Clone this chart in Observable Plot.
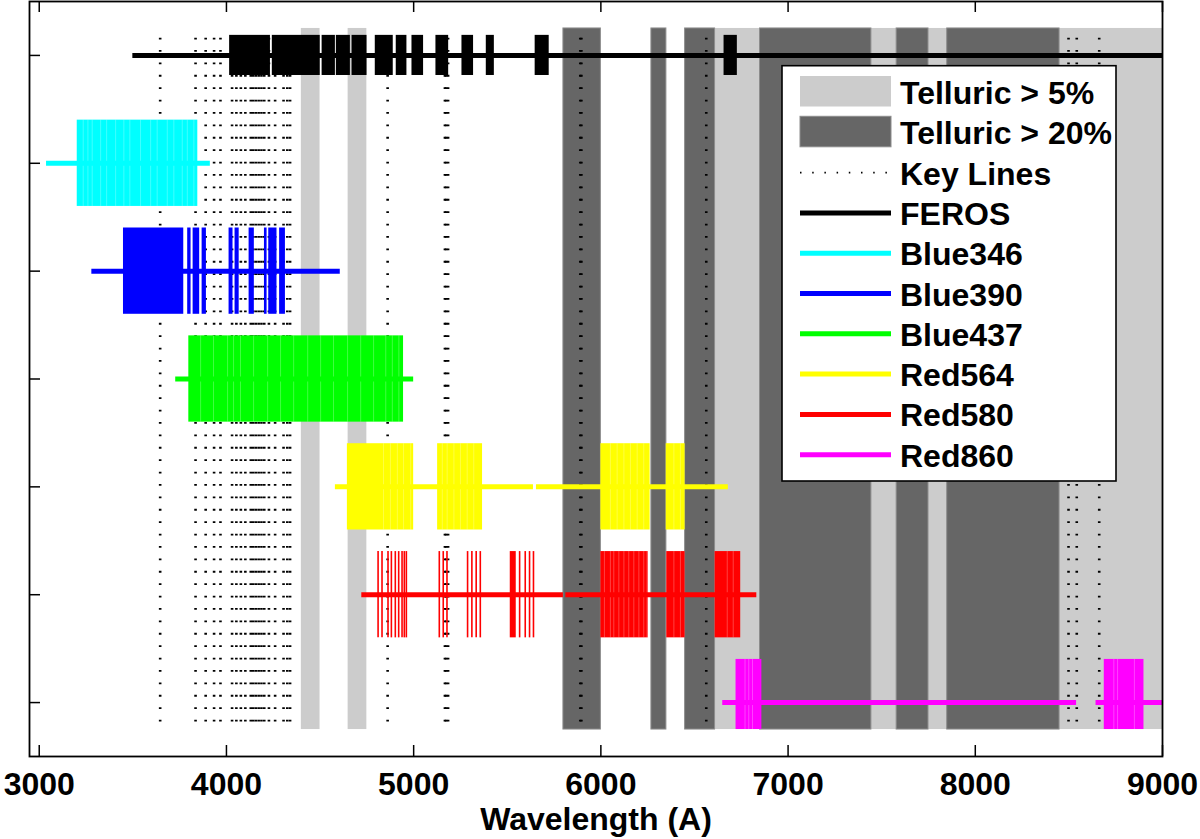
<!DOCTYPE html>
<html>
<head>
<meta charset="utf-8">
<script src="https://cdn.jsdelivr.net/npm/d3@7"></script>
<script src="https://cdn.jsdelivr.net/npm/@observablehq/plot@0.6"></script>
<style>
  body { margin: 0; background: #fff; }
  #chart { width: 1200px; height: 839px; }
</style>
</head>
<body>
<div id="chart"></div>
<script>
// ---------- data ----------
const settings = ["FEROS", "Blue346", "Blue390", "Blue437", "Red564", "Red580", "Red860"];
const settingColors = ["#000000", "#00ffff", "#0000ff", "#00ff00", "#ffff00", "#ff0000", "#ff00ff"];

// wavelength coverage (horizontal lines), one or two CCD segments
const ferosCoverage = [[3500, 9200]];
const blue346Coverage = [[3039, 3914]];
const blue390Coverage = [[3281, 4608]];
const blue437Coverage = [[3729, 5000]];
const red564Coverage = [[4582, 5640], [5656, 6681]];
const red580Coverage = [[4723, 5800], [5813, 6833]];
const red860Coverage = [[6651, 8541], [8645, 9200]];

// order blocks (filled boxes)
const ferosOrders = [[4017, 4235], [4245, 4501], [4511, 4582], [4587, 4662], [4671, 4751], [4795, 4891], [4907, 4964], [4991, 5053], [5119, 5187], [5258, 5320], [5388, 5431], [5649, 5724], [6658, 6729]];
const blue346Orders = [[3203, 3847]];
const blue390Orders = [[3450, 3772], [3793, 3811], [3822, 3857], [3870, 3893], [4014, 4035], [4046, 4068], [4121, 4149], [4203, 4217], [4226, 4270], [4284, 4315]];
const blue437Orders = [[3799, 4946]];
const red564Orders = [[4646, 5000], [5128, 5368], [6000, 6263], [6349, 6450]];
const red580Orders = [[5516, 5548], [6000, 6253], [6352, 6450], [6610, 6747]];
const red860Orders = [[6722, 6860], [8689, 8901]];
// isolated thin order lines
const red580Lines = [4810, 4831, 4863, 4881, 4902, 4920, 4938, 4950, 4961, 5137, 5158, 5178, 5288, 5311, 5334, 5356, 5566, 5596, 5619, 5640];

// faint light seams between adjacent orders inside the blocks
const blue346Seams = [3235, 3260, 3283, 3328, 3360, 3408, 3452, 3484, 3541, 3595, 3630, 3684, 3719, 3764, 3791, 3826];
const blue437Seams = [3862, 3931, 4006, 4038, 4075, 4145, 4220, 4289, 4359, 4434, 4503, 4572, 4647, 4717, 4786, 4851, 4886, 4921];
const red564Seams = [4839, 4876, 4913, 4946, 4984, 5153, 5179, 5215, 5250, 5286, 5321, 6051, 6087, 6123, 6158, 6194, 6229, 6390, 6425];
const red580Seams = [6019, 6051, 6069, 6096, 6123, 6149, 6176, 6203, 6229, 6247, 6390, 6425, 6675, 6707];
const red860Seams = [6770, 6790, 6810, 8740, 8760, 8850];

// telluric absorption bands
const telluric5 = [[4400, 4500], [4650, 4750], [6610, 9000]];
const telluric20 = [[5800, 6000], [6270, 6350], [6450, 6610], [6850, 7445], [7580, 7750], [7850, 8450]];

// key spectral lines
const keyLines = [3646, 3835, 3889, 3934, 3968, 4030, 4053, 4077, 4101, 4130, 4143, 4157, 4172, 4187, 4202, 4227, 4260, 4305, 4325, 4340, 4861, 5167, 5173, 5184, 5890, 5896, 6563, 8498, 8542, 8662];

const xTicks = [3000, 4000, 5000, 6000, 7000, 8000, 9000];
const legendLabels = ["Telluric > 5%", "Telluric > 20%", "Key Lines", "FEROS", "Blue346", "Blue390", "Blue437", "Red564", "Red580", "Red860"];

// ---------- build tables ----------
const coverages = [ferosCoverage, blue346Coverage, blue390Coverage, blue437Coverage, red564Coverage, red580Coverage, red860Coverage];
const orders = [ferosOrders, blue346Orders, blue390Orders, blue437Orders, red564Orders, red580Orders, red860Orders];
const seams = [[], blue346Seams, [], blue437Seams, red564Seams, red580Seams, red860Seams];

const bandTop = 0.75, bandBottom = 7.25;
const halfHeight = i => (i === 0 ? 0.186 : 0.4);
const rowTop = i => i + 1 - halfHeight(i);
const rowBottom = i => Math.min(i + 1 + halfHeight(i), bandBottom);

const coverageRows = [];
coverages.forEach((segs, i) => segs.forEach(([a, b]) => coverageRows.push({x1: a, x2: b, y: i + 1, color: settingColors[i]})));
const orderRows = [];
orders.forEach((segs, i) => segs.forEach(([a, b]) => orderRows.push({x1: a, x2: b, y1: rowTop(i), y2: rowBottom(i), color: settingColors[i]})));
const seamRows = [];
seams.forEach((xs, i) => xs.forEach(x => seamRows.push({x, y1: rowTop(i), y2: rowBottom(i)})));
const red580Row = settings.indexOf("Red580") + 1;

const W = 1200, H = 839;
const mTop = 1, mBottom = 83, mLeft = 29, mRight = 38;
const xDomain = [2948, 9000];
const pxPerUnitY = (H - mTop - mBottom) / 7;
const pxPerUnitX = (W - mLeft - mRight) / (xDomain[1] - xDomain[0]);
const tickLen = 11;
const font = "'Liberation Sans', Arial, Helvetica, sans-serif";

const chart = Plot.plot({
  width: W,
  height: H,
  marginTop: mTop,
  marginBottom: mBottom,
  marginLeft: mLeft,
  marginRight: mRight,
  style: {fontFamily: font, background: "#fff", color: "#000"},
  x: {domain: xDomain},
  y: {domain: [0.5, 7.5], reverse: true, axis: null},
  marks: [
    // telluric bands
    Plot.rect(telluric5, {x1: d => d[0], x2: d => d[1], y1: bandTop, y2: bandBottom, fill: "#cccccc", clip: true}),
    Plot.rect(telluric20, {x1: d => d[0], x2: d => d[1], y1: bandTop, y2: bandBottom, fill: "#666666", stroke: "#8c8c8c", strokeWidth: 1}),
    // key lines
    Plot.ruleX(keyLines, {x: d => d, y1: bandTop, y2: bandBottom, stroke: "#000", strokeWidth: 2.6, strokeDasharray: "1.8,10.6", strokeDashoffset: 2.7}),
    // order blocks
    Plot.rect(orderRows, {x1: "x1", x2: "x2", y1: "y1", y2: "y2", fill: "color"}),
    Plot.ruleX(seamRows, {x: "x", y1: "y1", y2: "y2", stroke: "#ffffff", strokeOpacity: 0.25, strokeWidth: 1}),
    Plot.ruleX(red580Lines, {x: d => d, y1: red580Row - 0.4, y2: red580Row + 0.4, stroke: "#ff0000", strokeWidth: 1.6}),
    // coverage lines
    Plot.ruleY(coverageRows, {y: "y", x1: "x1", x2: "x2", stroke: "color", strokeWidth: 5, clip: true}),
    // frame + ticks
    Plot.frame({stroke: "#000", strokeWidth: 1.8}),
    Plot.ruleX(xTicks, {x: d => d, y1: 7.5, y2: 7.5 - tickLen / pxPerUnitY, stroke: "#000", strokeWidth: 1.5}),
    Plot.ruleX(xTicks, {x: d => d, y1: 0.5, y2: 0.5 + tickLen / pxPerUnitY, stroke: "#000", strokeWidth: 1.5}),
    Plot.ruleY([1, 2, 3, 4, 5, 6, 7], {y: d => d, x1: xDomain[0], x2: xDomain[0] + tickLen / pxPerUnitX, stroke: "#000", strokeWidth: 1.5}),
    Plot.axisX({ticks: xTicks, tickSize: 0, tickPadding: 16, tickFormat: d => String(d), fontSize: 32, fontWeight: "bold", label: null}),
    Plot.text(["Wavelength (A)"], {frameAnchor: "bottom", dy: 73, fontSize: 32, fontWeight: "bold", fill: "#000"})
  ]
});

document.getElementById("chart").appendChild(chart);

// ---------- legend ----------
const svg = d3.select(chart);
const lg = svg.append("g").attr("font-family", font).attr("font-size", 32).attr("font-weight", "bold").attr("text-anchor", "start");
lg.append("rect").attr("x", 782).attr("y", 65.7).attr("width", 334).attr("height", 415.3)
  .attr("fill", "#fff").attr("stroke", "#000").attr("stroke-width", 1.6);
const step = 40.3;
const swX1 = 800, swX2 = 891;
legendLabels.forEach((label, i) => {
  const cy = 91.5 + step * i;
  if (i === 0) {
    lg.append("rect").attr("x", swX1).attr("y", cy - 15.5).attr("width", swX2 - swX1).attr("height", 30.5).attr("fill", "#cccccc");
  } else if (i === 1) {
    lg.append("rect").attr("x", swX1).attr("y", cy - 15.5).attr("width", swX2 - swX1).attr("height", 30.5).attr("fill", "#666666").attr("stroke", "#8c8c8c");
  } else if (i === 2) {
    lg.append("line").attr("x1", swX1).attr("x2", swX2).attr("y1", cy + 0.5).attr("y2", cy + 0.5)
      .attr("stroke", "#000").attr("stroke-width", 1.8).attr("stroke-dasharray", "1.5,10.7");
  } else {
    lg.append("line").attr("x1", swX1).attr("x2", swX2).attr("y1", cy + 0.5).attr("y2", cy + 0.5)
      .attr("stroke", settingColors[i - 3]).attr("stroke-width", 5);
  }
  lg.append("text").attr("x", 900).attr("y", 104 + step * i).attr("fill", "#000").attr("text-anchor", "start").text(label);
});
</script>
</body>
</html>
